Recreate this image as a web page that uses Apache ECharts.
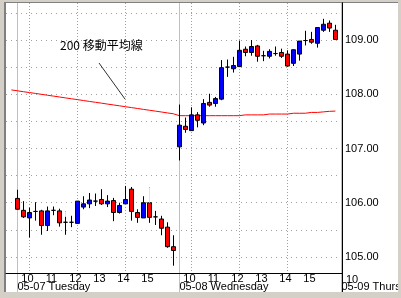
<!DOCTYPE html>
<html><head><meta charset="utf-8">
<script src="https://cdn.jsdelivr.net/npm/echarts@6/dist/echarts.min.js"></script>
<style>
html,body{margin:0;padding:0;background:#d4d0c8;width:401px;height:298px;overflow:hidden}
#panel{position:absolute;left:6px;top:3px;width:392px;height:289px;background:#fff}
#edgeL{position:absolute;left:4px;top:2px;width:2px;height:290px;background:#808080}
#edgeT{position:absolute;left:4px;top:2px;width:394px;height:1px;background:#808080}
#chart{position:absolute;left:0;top:0;width:398px;height:292px}
.ndlabel{position:absolute;font:11px "Liberation Sans";color:#000;line-height:11px;white-space:nowrap;z-index:10}
</style></head>
<body><div id="panel"></div><div id="edgeL"></div><div id="edgeT"></div><div id="chart"></div>
<script>
// ---- data (15-minute candles, index 0 = 05-07 09:30) ----
const candleIdx = [];
for (let i = 0; i < 54; i++) candleIdx.push(i);
const open  = [106.08,105.86,105.72,105.84,105.85,105.58,105.86,105.85,105.64,105.64,105.62,105.92,105.98,106.03,106.06,105.98,106.04,105.82,105.98,106.25,105.82,105.72,106.00,105.74,105.70,105.55,105.19,
               107.03,107.41,107.33,107.62,107.47,107.85,107.83,107.91,108.50,108.47,108.51,108.83,108.77,108.89,108.71,108.70,108.75,108.77,108.74,108.57,108.74,108.99,109.01,108.94,109.18,109.31,109.18];
const close = [105.88,105.74,105.82,105.84,105.58,105.85,105.86,105.63,105.64,105.64,106.03,105.98,106.05,106.03,105.98,106.03,105.82,105.95,106.06,105.84,105.73,106.00,105.73,105.74,105.53,105.19,105.12,
               107.43,107.35,107.62,107.52,107.83,107.80,107.92,108.49,108.50,108.53,108.81,108.77,108.88,108.70,108.71,108.79,108.75,108.70,108.52,108.82,108.98,108.99,108.96,109.23,109.29,109.22,109.01];
const low   = [105.87,105.72,105.36,105.67,105.41,105.48,105.77,105.56,105.41,105.55,105.62,105.88,105.90,105.94,105.96,105.92,105.66,105.80,105.98,105.67,105.63,105.72,105.63,105.59,105.40,105.17,104.84,
               106.78,107.29,107.33,107.39,107.43,107.77,107.77,107.89,108.32,108.40,108.50,108.70,108.71,108.60,108.61,108.66,108.71,108.67,108.51,108.52,108.62,108.90,108.93,108.86,109.15,109.15,109.01];
const high  = [106.24,106.03,105.91,106.01,105.87,105.93,105.93,105.89,105.84,105.76,106.03,106.12,106.18,106.17,106.25,106.14,106.09,106.00,106.31,106.29,105.88,106.12,106.28,105.85,105.76,105.64,105.40,
               107.81,107.57,107.76,107.67,107.91,108.01,107.95,108.63,108.64,108.69,108.99,108.88,109.00,108.91,108.80,108.83,108.88,108.84,108.81,108.83,108.98,109.17,109.15,109.23,109.39,109.36,109.28];
// highlighted (yellow) wick segments: [candle index, from, to]
const yellowWicks = [[8, 105.74, 105.84], [22, 106.00, 106.28]];
// 200-period moving average, index -1 .. 53
const maIdx = [];
for (let i = -1; i < 54; i++) maIdx.push(i);
const maVals = [108.08,108.064,108.047,108.031,108.015,107.999,107.982,107.966,107.95,107.933,107.917,107.901,107.884,107.868,107.852,107.836,107.819,107.803,107.787,107.77,107.754,107.738,107.721,107.705,107.689,107.673,107.656,107.64,
                107.605,107.605,107.605,107.605,107.605,107.605,107.605,107.605,107.605,107.605,107.605,107.62,107.62,107.62,107.62,107.635,107.635,107.635,107.635,107.65,107.65,107.65,107.665,107.665,107.675,107.685,107.69];
const hourLabels = ['10','11','12','13','14','15','10','11','12','13','14','15'];
const hourTickIdx = [2,6,10,14,18,22,29,33,37,41,45,49];
const nextDayHourLabels = ['10'];
const nextDayHourIdx = [56];
const hourGridIdx = [2,10,18,29,37,45];
const dayLabels = ['05-07 Tuesday','05-08 Wednesday','05-09 Thursday'];
const dayStartIdx = [0,27,54];
const priceTicks = [105,106,107,108,109];
const priceGrid = [105,105.5,106,106.5,107,107.5,108,108.5,109,109.5];
const annotationText = '200 移動平均線';

const FONT = 'Liberation Sans';
const chart = echarts.init(document.getElementById('chart'), null, {renderer:'canvas'});
const gridLineColor = '#a0a0a0';
const txt = {fontSize:11, fontFamily:FONT, color:'#000'};
const option = {
  animation: false,
  grid: [
    {left: 6, top: 3, width: 336, height: 270, containLabel:false, outerBoundsMode:'none'},
    {left: 6, top: 3, width: 392, height: 289, containLabel:false, outerBoundsMode:'none'}
  ],
  xAxis: [
    {gridIndex:0, type:'value', position:'bottom', min:-1.9, max:54.1,
     axisLine:{show:true, onZero:false, lineStyle:{color:'#000', width:1}},
     axisTick:{show:false, customValues: hourGridIdx},
     axisLabel:{show:false},
     splitLine:{show:true, lineStyle:{color:gridLineColor, width:1, type:[1,2]}}},
    {gridIndex:1, type:'value', position:'bottom', min:-1.9, max:63.4333, offset:-19,
     axisLine:{show:false, onZero:false},
     axisTick:{show:false, customValues: hourTickIdx},
     axisLabel:Object.assign({customValues: hourTickIdx, formatter: v => hourLabels[hourTickIdx.indexOf(v)],
                margin:2, lineHeight:8, padding:[0,4,0,0], showMinLabel:true, showMaxLabel:true, hideOverlap:false}, txt),
     splitLine:{show:false}},
    {gridIndex:1, type:'value', position:'bottom', min:-1.9, max:63.4333, offset:-19,
     axisLine:{show:false, onZero:false},
     axisTick:{show:false, customValues: dayStartIdx},
     axisLabel:Object.assign({customValues: dayStartIdx, formatter: v => dayLabels[dayStartIdx.indexOf(v)],
                margin:10, lineHeight:8, align:'left', showMinLabel:true, showMaxLabel:true, hideOverlap:false}, txt),
     splitLine:{show:true, lineStyle:{color:'#c0c0c0', width:1}}}
  ],
  yAxis: [
    {gridIndex:0, type:'value', position:'right', min:104.705, max:109.682,
     axisLine:{show:true, onZero:false, lineStyle:{color:'#000', width:1}},
     axisTick:{show:false, customValues: priceGrid},
     axisLabel:Object.assign({customValues: priceTicks, formatter: v => v.toFixed(2), margin:3}, txt),
     splitLine:{show:true, lineStyle:{color:gridLineColor, width:1, type:[1,4]}}},
    {gridIndex:1, type:'value', position:'left', offset:-336, min:0, max:1,
     axisLine:{show:true, onZero:false, lineStyle:{color:'#000', width:1}},
     axisTick:{show:false}, axisLabel:{show:false}, splitLine:{show:false}}
  ],
  graphic: [
    {type:'text', id:'annot', left:60, top:39, z:100,
     style:{text: annotationText, font:'12px "Noto Sans CJK JP"', fill:'#000'}}
  ],
  series: [
    {type:'line', xAxisIndex:0, yAxisIndex:0, z:2,
     data: maIdx.map((x,k) => [x, maVals[k]]),
     showSymbol:false, symbol:'none',
     lineStyle:{color:'#ff0000', width:1},
     markLine:{silent:true, symbol:['none','none'], label:{show:false},
       lineStyle:{color:'#303030', width:1, type:'solid'},
       emphasis:{disabled:true},
       data:[[{coord:[13.6,108.576]},{coord:[17.93,107.912]}]]}},
    {type:'candlestick', xAxisIndex:0, yAxisIndex:0, z:3,
     barWidth:4,
     encode:{x:0, y:[1,2,3,4]},
     data: candleIdx.map(i => [i, open[i], close[i], low[i], high[i]]),
     itemStyle:{color:'#0000ff', color0:'#ff0000', borderColor:'#000', borderColor0:'#000', borderWidth:1}},
    {type:'custom', xAxisIndex:0, yAxisIndex:0, z:4,
     data: yellowWicks,
     encode:{x:0, y:[1,2]},
     renderItem: (params, api) => {
       const a = api.coord([api.value(0), api.value(1)]);
       const b = api.coord([api.value(0), api.value(2)]);
       let d = Math.round(a[0]*2); if (d % 2 === 0) d += 1;
       const x = d/2;
       return {type:'line', shape:{x1:x, y1:a[1], x2:x, y2:b[1]}, style:{stroke:'#ffff00', lineWidth:1}};
     }}
  ]
};
chart.setOption(option);
// hour label of the following day: position taken from the label axis scale, placed as text over the chart
nextDayHourIdx.forEach((v, k) => {
  let px = 353;
  try {
    const p = chart.convertToPixel({xAxisIndex:1}, v);
    const q = Array.isArray(p) ? p[0] : p;
    if (isFinite(q)) px = q;
  } catch (e) {}
  const el = document.createElement('div');
  el.className = 'ndlabel';
  el.textContent = nextDayHourLabels[k];
  el.style.left = (Math.round(px) - 7) + 'px';
  el.style.top = '274px';
  document.body.appendChild(el);
});
</script></body></html>
